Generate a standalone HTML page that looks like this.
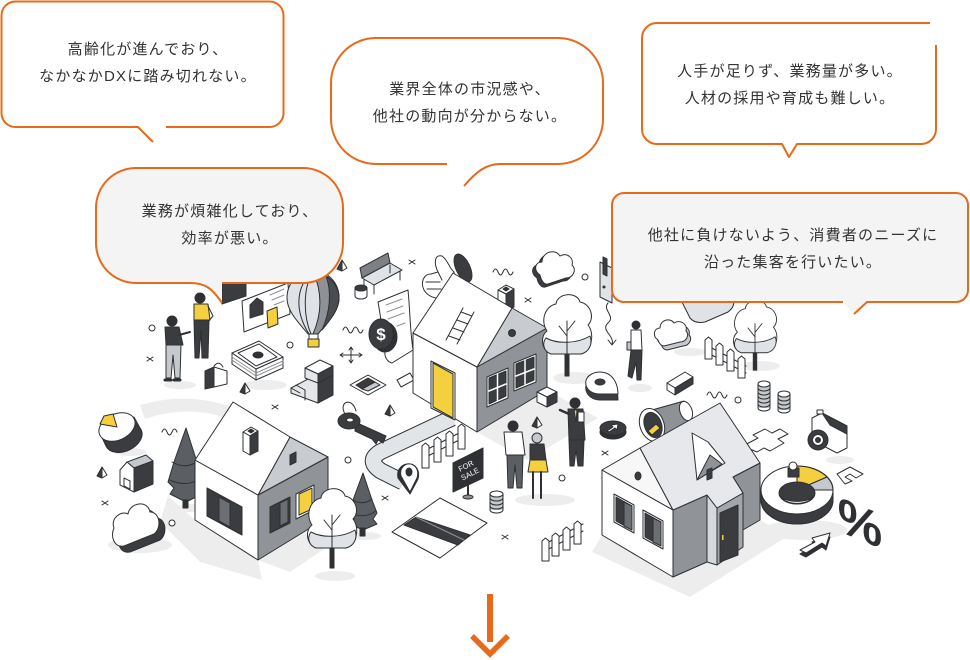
<!DOCTYPE html>
<html><head><meta charset="utf-8">
<style>
html,body{margin:0;padding:0;background:#fff;}
body{width:970px;height:660px;position:relative;overflow:hidden;font-family:"Liberation Sans","Noto Sans CJK JP",sans-serif;}
.t{position:absolute;width:400px;text-align:center;font-size:15px;letter-spacing:1.2px;line-height:27px;color:#333;white-space:nowrap;}
svg{position:absolute;left:0;top:0;}
</style></head><body>
<svg width="970" height="660" viewBox="0 0 970 660">
<!-- shadows -->
<g fill="#ededed" stroke="none">
<polygon points="168,496 195,520 258,560 262,580 200,562 160,522"/>
<polygon points="258,560 328,517 352,530 290,572"/>
<polygon points="477,432 547,390 598,418 527,460"/>
<polygon points="602,535 673,577 760,520 788,536 690,597 592,552"/>
<path d="M140,405 Q190,390 240,410 L235,421 Q190,403 145,419 Z"/>
<ellipse cx="140" cy="545" rx="32" ry="8"/>
<ellipse cx="805" cy="530" rx="42" ry="10"/>
<ellipse cx="575" cy="378" rx="22" ry="6"/>
<ellipse cx="335" cy="576" rx="20" ry="5"/>
<ellipse cx="760" cy="366" rx="20" ry="5"/>
<ellipse cx="365" cy="536" rx="16" ry="4"/>
<ellipse cx="190" cy="508" rx="14" ry="4"/>
<ellipse cx="180" cy="385" rx="16" ry="4"/>
<ellipse cx="265" cy="385" rx="22" ry="5"/>
<ellipse cx="545" cy="500" rx="30" ry="6"/>
<ellipse cx="640" cy="388" rx="12" ry="4"/>
<ellipse cx="690" cy="352" rx="16" ry="4"/>
<ellipse cx="840" cy="460" rx="14" ry="4"/>
<ellipse cx="130" cy="452" rx="16" ry="4"/>
</g>

<g stroke="#2e3033" stroke-width="1" stroke-linejoin="round" stroke-linecap="round">
<!-- decor x marks -->
<path d="M147,357 l6,4 m0,-4 l-6,4 M272,405 l6,4 m0,-4 l-6,4 M102,501 l6,4 m0,-4 l-6,4 M382,496 l6,4 m0,-4 l-6,4 M409,260 l6,4 m0,-4 l-6,4 M525,298 l6,4 m0,-4 l-6,4 M502,535 l6,4 m0,-4 l-6,4 M602,451 l6,4 m0,-4 l-6,4" fill="none"/>
<!-- small circles -->
<g fill="#fff"><circle cx="152" cy="328" r="3"/><circle cx="290" cy="345" r="3"/><circle cx="348" cy="460" r="3"/><circle cx="172" cy="523" r="3"/><circle cx="562" cy="478" r="3"/><circle cx="585" cy="277" r="3"/><circle cx="738" cy="400" r="3"/></g>
<!-- squiggles -->
<path d="M343,330 q2.5,-6 5,0 t5,0 t5,0 t5,0 M162,432 q2.5,-6 5,0 t5,0 t5,0 M493,272 q2.5,-6 5,0 t5,0 t5,0 t5,0 M707,395 q2.5,-6 5,0 t5,0 t5,0 t5,0" fill="none"/>
<!-- small pyramids -->
<g>
<polygon points="342,260 337,269 342,271" fill="#3a3c3f"/><polygon points="342,260 347,268 342,271" fill="#fff"/>
<polygon points="245,383 240,392 245,394" fill="#3a3c3f"/><polygon points="245,383 250,391 245,394" fill="#fff"/>
<polygon points="390,405 385,414 390,416" fill="#3a3c3f"/><polygon points="390,405 395,413 390,416" fill="#fff"/>
<polygon points="102,467 97,476 102,478" fill="#3a3c3f"/><polygon points="102,467 107,475 102,478" fill="#fff"/>
<polygon points="537,417 532,426 537,428" fill="#3a3c3f"/><polygon points="537,417 542,425 537,428" fill="#fff"/>
</g>

<!-- monitor / card -->
<polygon points="222,283 246,276 246,296 222,304" fill="#3a3c3f"/>
<polygon points="242,301 288,283 290,314 244,332" fill="#fff"/>
<polygon points="250,305 257,298 263,302 263,314 250,318" fill="#3a3c3f"/>
<polygon points="267,311 277,307 278,324 268,328" fill="#f4d03f"/>
<path d="M270,295 l14,-6 M272,300 l12,-5 M274,305 l10,-4" stroke="#8e9195" fill="none"/>

<!-- balloon -->
<path d="M313,271 C298,271 287,283 287,298 C287,312 300,324 308,334 L318,334 C326,324 339,312 339,298 C339,283 328,271 313,271 Z" fill="#dfe2e6"/>
<path d="M313,271 C328,271 339,283 339,298 C339,312 326,324 318,334 L313,334 C320,318 324,296 313,271 Z" fill="#8e9195"/>
<path d="M326,276 C335,282 339,290 339,298 C339,310 330,320 322,330 C330,312 332,292 326,276 Z" fill="#4a4c50"/>
<path d="M313,271 C302,290 304,318 311,334 M313,271 C296,286 294,310 309,334" fill="none"/>
<path d="M309,334 L309,339 M318,334 L318,339" fill="none"/>
<rect x="308" y="339" width="11" height="8" fill="#f4d03f"/>

<!-- people left -->
<circle cx="172" cy="321" r="5" fill="#2e3033"/>
<polygon points="165,327 179,327 183,345 166,345" fill="#3a3c3f"/>
<path d="M179,335 L190,332" stroke-width="2" fill="none"/>
<polygon points="166,345 181,345 180,378 175,378 173,355 171,378 166,378" fill="#c5c8cc"/>
<path d="M165,380 h6 M174,380 h6" stroke-width="3" fill="none"/>
<circle cx="200" cy="298" r="5" fill="#2e3033"/>
<polygon points="194,304 208,304 210,320 194,320" fill="#f4d03f"/>
<polygon points="194,320 209,320 208,358 202,358 201,330 199,358 195,358" fill="#3a3c3f"/>
<path d="M208,306 L213,316 L208,322" fill="none"/>

<!-- money stack -->
<polygon points="232,353 256,369 256,380 232,364" fill="#fff"/>
<polygon points="256,369 283,357 283,368 256,380" fill="#fff"/>
<path d="M232,357 l24,16 l27,-12 M232,360 l24,16 l27,-12" fill="none" stroke="#8e9195"/>
<polygon points="232,353 259,341 283,357 256,369" fill="#fff"/>
<ellipse cx="258" cy="355" rx="5" ry="3" fill="#2e3033"/>
<polygon points="238,353 259,344 277,357 256,366" fill="none"/>

<!-- briefcase -->
<polygon points="205,371 214,367 214,387 205,389" fill="#3a3c3f"/>
<polygon points="214,367 227,371 227,384 214,387" fill="#fff"/>
<path d="M214,366 q5,-6 9,1" fill="none"/>

<!-- stairs -->
<polygon points="291,388 310,378 318,383 318,403 291,393" fill="#e4e6e9"/>
<path d="M291,388 l9,5 M296,385 l9,5 v10" fill="none"/>
<polygon points="318,383 333,375 333,395 318,403" fill="#3a3c3f"/>
<polygon points="305,368 320,360 333,366 318,374" fill="#fff"/>
<polygon points="305,368 318,374 318,383 305,378" fill="#e4e6e9"/>
<polygon points="318,374 333,366 333,375 318,383" fill="#3a3c3f"/>

<!-- move arrows -->
<path d="M340,355 H362 M351,347 V363 M343,353 l-3,2 3,2 M359,353 l3,2 -3,2 M349,350 l2,-3 2,3 M349,360 l2,3 2,-3" fill="none"/>

<!-- hole -->
<polygon points="350,385 368,375 386,385 368,395" fill="#fff"/>
<polygon points="356,385 368,378 375,382 362,389" fill="#3a3c3f"/>
<polygon points="362,389 375,382 380,385 368,391" fill="#c5c8cc"/>

<!-- bench, cup -->
<polygon points="360,268 388,253 390,263 362,278" fill="#7d8084"/>
<polygon points="362,278 390,263 402,270 374,285" fill="#dfe2e6"/>
<path d="M364,280 v8 M374,285 v9 M400,271 v9 M390,265 v8" fill="none"/>
<rect x="355" y="288" width="12" height="8" fill="#fff" stroke="none"/>
<path d="M355,288 V296 M367,288 V296 M355,296 a6,3 0 0 0 12,0" fill="none"/>
<ellipse cx="361" cy="288" rx="6" ry="3" fill="#3a3c3f"/>

<!-- receipt and coin -->
<path d="M378,302 L408,290 C410,310 410,330 413,350 L392,363 C388,362 384,358 385,350 C383,335 381,318 378,302 Z" fill="#fff"/>
<path d="M386,305 l16,-6 M387,312 l16,-6 M388,319 l16,-6 M397,326 l8,-3" stroke="#8e9195" fill="none"/>
<ellipse cx="385" cy="337" rx="12" ry="15" fill="#2e3033"/>
<ellipse cx="381" cy="334" rx="12" ry="15" fill="#3a3c3f"/>
<text x="381" y="340" font-size="17" font-weight="bold" fill="#fff" text-anchor="middle" font-family="Liberation Sans, sans-serif" stroke="none">$</text>
<!-- pipe -->
<polygon points="397,380 410,373 414,380 401,387" fill="#fff"/>

<!-- thumbs up -->
<ellipse cx="463" cy="268" rx="7" ry="15" transform="rotate(-25 463 268)" fill="#3a3c3f"/>
<path d="M424,290 C420,282 424,274 431,274 L438,272 C434,264 434,254 442,256 C448,260 449,268 454,272 L457,293 C445,301 430,300 424,290 Z" fill="#fff"/>
<path d="M426,282 h14 M427,289 h14 M438,272 l4,8" fill="none"/>

<!-- cloud top -->
<path d="M537,278 C530,273 532,265 539,265 C539,255 552,251 557,259 C564,255 571,261 569,268 C574,273 570,281 563,281 L545,287 C541,288 538,283 537,278 Z" fill="#3a3c3f"/>
<path d="M540,275 C533,270 535,262 542,262 C542,252 555,248 560,256 C567,252 574,258 572,265 C577,270 573,278 566,278 L548,284 C544,285 541,280 540,275 Z" fill="#fff"/>

<!-- path -->
<path d="M452,418 L380,452 Q366,461 381,471 L403,482" fill="none" stroke="#2e3033" stroke-width="17" stroke-linecap="butt"/>
<path d="M452,418 L380,452 Q366,461 381,471 L403,482" fill="none" stroke="#e2e5e8" stroke-width="15" stroke-linecap="butt"/>
<!-- pin in path -->
<path d="M398,478 C396,469 403,463 410,464 C417,465 420,472 418,479 L410,494 Z" fill="#2e3033"/>
<path d="M401,476 C399,468 405,463 411,464 C417,466 419,472 417,478 L410,492 Z" fill="#fff"/>
<ellipse cx="409" cy="472" rx="3" ry="4" fill="#2e3033"/>

<!-- key -->
<path d="M345,414 C338,402 352,396 356,411" fill="none"/>
<polygon points="355,422 386,436 383,443 378,440 376,444 372,439 355,431" fill="#3a3c3f"/>
<ellipse cx="349" cy="421" rx="11" ry="8" fill="#3a3c3f"/>
<ellipse cx="350" cy="420" rx="3.5" ry="2" fill="#fff"/>

<!-- pine tree A -->
<polygon points="186,428 174,462 168,482 174,488 170,494 186,502 202,494 198,488 203,480 197,462" fill="#5b5e62"/>
<path d="M170,480 Q186,488 202,478 M172,462 Q186,470 198,461" fill="none"/>
<rect x="183" y="500" width="5" height="8" fill="#2e3033"/>

<!-- house A -->
<polygon points="195,460 258,495 258,560 195,520" fill="#fff"/>
<polygon points="258,495 328,457 328,517 258,560" fill="#909397"/>
<polygon points="258,495 290,437 328,457" fill="#c8cbcf"/>
<polygon points="195,460 233,402 290,437 258,495" fill="#fff"/>
<polygon points="243,432 251,427 258,431 250,436" fill="#fff"/>
<polygon points="243,432 250,436 250,455 243,451" fill="#fff"/>
<polygon points="250,436 258,431 258,451 250,455" fill="#3a3c3f"/>
<polygon points="248,431 251,429 254,431 251,433" fill="#2e3033"/>
<polygon points="207,488 242,507 242,535 207,516" fill="#3a3c3f"/>
<polygon points="219,497 230,503 230,527 219,521" fill="#6b6e72"/>
<polygon points="270,507 290,497 290,523 270,533" fill="#3a3c3f"/>
<polygon points="280,503 288,499 288,522 280,526" fill="#6b6e72"/>
<polygon points="296,494 314,485 314,510 296,519" fill="#fff"/>
<polygon points="299,494 312,488 312,509 299,515" fill="#f4d03f"/>
<polygon points="290,455 296,452 296,462 290,465" fill="#3a3c3f"/>

<!-- pine tree B -->
<polygon points="363,473 353,500 348,514 354,519 350,524 363,530 377,524 373,519 377,513 372,500" fill="#5b5e62"/>
<path d="M350,512 Q363,520 376,511 M353,500 Q363,506 372,499" fill="none"/>
<rect x="360" y="528" width="5" height="8" fill="#2e3033"/>

<!-- white tree A -->
<g transform="translate(332,520)">
<rect x="-2" y="26" width="4" height="22" fill="#2e3033"/>
<path d="M-16,28 C-26,24 -27,10 -20,5 C-27,-5 -22,-20 -11,-22 C-10,-33 10,-35 13,-24 C24,-22 28,-8 21,-1 C28,8 25,24 14,28 Z" fill="#fff"/>
<path d="M-16,28 C-24,25 -25,17 -21,12 C-10,18 10,18 23,10 C26,18 22,26 14,28 Z" fill="#dfe2e6"/>
<path d="M0,28 V-5 M0,10 L-8,0 M0,5 L8,-5" fill="none"/>
</g>

<!-- small house -->
<polygon points="127,462 146,455 153,461 134,468" fill="#c5c8cc"/>
<polygon points="134,468 153,461 153,484 134,492" fill="#3a3c3f"/>
<polygon points="120,470 127,462 134,468 134,492 120,485" fill="#fff"/>
<polygon points="124,478 130,481 130,489 124,486" fill="#fff"/>

<!-- pie chart -->
<path d="M99,431 L106,446 A19,13 -25 0 0 141,430 L134,417 Z" fill="#3a3c3f"/>
<ellipse cx="124" cy="438" rx="19" ry="13" transform="rotate(-25 124 438)" fill="#3a3c3f"/>
<ellipse cx="117" cy="427" rx="19" ry="13" transform="rotate(-25 117 427)" fill="#fff"/>
<polygon points="117,427 100,424 104,416 113,414" fill="#f4d03f"/>

<!-- cloud left -->
<path d="M120,534 C116,524 128,516 134,520 C136,508 154,506 156,518 C166,518 168,534 160,540 L130,552 C120,554 116,542 120,534 Z" fill="#3a3c3f"/>
<path d="M114,528 C110,518 122,510 128,514 C130,502 148,500 150,512 C160,512 162,528 154,534 L124,546 C114,548 110,536 114,528 Z" fill="#fff"/>

<!-- house B chimney -->
<polygon points="498,290 506,285 514,289 506,294" fill="#fff"/>
<polygon points="498,290 506,294 506,312 498,306" fill="#fff"/>
<polygon points="506,294 514,289 514,307 506,312" fill="#3a3c3f"/>
<polygon points="503,289 506,287 509,289 506,291" fill="#2e3033"/>

<!-- house B -->
<polygon points="413,333 477,367 477,432 413,393" fill="#fff"/>
<polygon points="477,367 547,328 547,390 477,432" fill="#909397"/>
<polygon points="477,367 512,308 547,328" fill="#c8cbcf"/>
<polygon points="413,333 453,273 512,308 477,367" fill="#fff"/>
<path d="M463,308 L446,340 M474,312 L457,344 M461,312 L472,316 M457,320 L468,324 M453,328 L464,332 M449,336 L460,340" fill="none"/>
<circle cx="512" cy="333" r="3.5" fill="#3a3c3f"/>
<polygon points="431,361 455,373 455,420 431,408" fill="#fff"/>
<polygon points="433,363 453,374 453,418 433,407" fill="#f4d03f"/>
<polygon points="487,377 508,368 508,398 487,407" fill="#fff"/>
<polygon points="489,378 506,371 506,396 489,404" fill="#3a3c3f"/>
<path d="M497.5,374 V401 M489,391 L506,384" stroke="#fff" stroke-width="1.5" fill="none"/>
<polygon points="514,363 536,354 536,382 514,391" fill="#fff"/>
<polygon points="516,364 534,357 534,380 516,388" fill="#3a3c3f"/>
<path d="M525,360 V384 M516,376 L534,369" stroke="#fff" stroke-width="1.5" fill="none"/>

<!-- white tree B -->
<g transform="translate(567,326)">
<rect x="-2" y="26" width="4" height="24" fill="#2e3033"/>
<path d="M-16,28 C-26,24 -27,10 -20,5 C-27,-5 -22,-20 -11,-22 C-10,-33 10,-35 13,-24 C24,-22 28,-8 21,-1 C28,8 25,24 14,28 Z" fill="#fff"/>
<path d="M-16,28 C-24,25 -25,17 -21,12 C-10,18 10,18 23,10 C26,18 22,26 14,28 Z" fill="#dfe2e6"/>
<path d="M0,28 V-5 M0,10 L-8,0 M0,5 L8,-5" fill="none"/>
</g>

<!-- cube -->
<polygon points="537,392 547,387 557,392 547,397" fill="#fff"/>
<polygon points="537,392 547,397 547,407 537,402" fill="#fff"/>
<polygon points="547,397 557,392 557,402 547,407" fill="#3a3c3f"/>

<!-- fence center -->
<path d="M424,458 L465,437 M424,451 L465,430" fill="none"/>
<g fill="#fff">
<polygon points="422,468 422,446 425.5,443 429,446 429,468"/>
<polygon points="434,462 434,440 437.5,437 441,440 441,462"/>
<polygon points="446,456 446,434 449.5,431 453,434 453,456"/>
<polygon points="458,449 458,427 461.5,424 465,427 465,449"/>
</g>

<!-- for sale sign -->
<path d="M468,485 V496" fill="none" stroke-width="2"/>
<ellipse cx="468" cy="497" rx="5" ry="2" fill="#8e9195"/>
<polygon points="453,463 483,448 483,478 453,492" fill="#2e3033"/>
<g transform="translate(468,470) rotate(-27)" fill="#fff" stroke="none" font-family="Liberation Sans, sans-serif" font-size="7.5" text-anchor="middle"><text x="0" y="-2">FOR</text><text x="0" y="7">SALE</text></g>

<!-- coin stack center -->
<rect x="490" y="494" width="13" height="16" fill="#c5c8cc" stroke="none"/>
<path d="M490,494 V510 M503,494 V510 M490,510 a6.5,3 0 0 0 13,0 M490,498 a6.5,3 0 0 0 13,0 M490,502 a6.5,3 0 0 0 13,0 M490,506 a6.5,3 0 0 0 13,0" fill="none"/>
<ellipse cx="496.5" cy="494" rx="6.5" ry="3" fill="#fff"/>

<!-- ramp -->
<polygon points="392,532 440,498 487,523 440,558" fill="#fff"/>
<polygon points="404,525 416,517 470,535 458,545" fill="#3a3c3f"/>
<path d="M416,517 L464,540" stroke="#8e9195" fill="none"/>

<!-- people center -->
<circle cx="513" cy="426" r="5" fill="#2e3033"/>
<polygon points="504,432 522,432 525,455 506,455" fill="#fff"/>
<polygon points="507,455 523,455 522,488 517,488 515,465 513,488 508,488" fill="#5b5e62"/>
<circle cx="537" cy="438" r="5" fill="#c5c8cc"/>
<polygon points="530,444 544,444 546,460 530,460" fill="#3a3c3f"/>
<polygon points="530,460 546,460 548,472 528,472" fill="#f4d03f"/>
<path d="M533,472 V498 M541,472 V498" stroke-width="2" fill="none"/>
<circle cx="575" cy="403" r="5" fill="#2e3033"/>
<polygon points="568,409 583,409 585,440 569,440" fill="#3a3c3f"/>
<polygon points="574,410 577,410 576,422" fill="#f4d03f"/>
<path d="M569,414 L560,410" stroke-width="2.5" fill="none"/>
<polygon points="569,440 584,440 583,466 578,466 576,450 574,466 570,466" fill="#3a3c3f"/>
<rect x="578" y="412" width="6" height="10" fill="#fff"/>

<!-- pin right -->
<path d="M586,390 C584,380 596,375 606,378 C614,381 618,390 618,400 L600,400 C592,400 587,395 586,390 Z" fill="#3a3c3f"/>
<path d="M586,385 C584,375 596,370 606,373 C614,376 618,385 618,394 L600,394 C592,394 587,390 586,385 Z" fill="#fff"/>
<ellipse cx="600" cy="382" rx="5" ry="3" fill="#3a3c3f"/>

<!-- arrow circle -->
<ellipse cx="613" cy="432" rx="13" ry="7" fill="#2e3033"/>
<ellipse cx="613" cy="428" rx="13" ry="7" fill="#3a3c3f"/>
<polygon points="607,431 613,427 611,425 618,424 617,430 615,428 609,432" fill="#fff"/>

<!-- door near bubble 5, gray shape -->
<polygon points="600,262 612,268 612,303 600,297" fill="#dfe2e6"/>
<polygon points="603,257 607,259 607,276 603,274" fill="#3a3c3f"/>
<circle cx="604" cy="287" r="1" fill="#2e3033"/>
<path d="M680,298 L690,318 Q695,324 705,322 L728,312 Q736,306 733,298 Z" fill="#dfe2e6"/>
<path d="M608,303 C602,310 616,316 608,323 C600,330 615,336 612,344 M608,340 L612,345 L616,340" fill="none"/>

<!-- woman walking -->
<circle cx="636" cy="325" r="4" fill="#2e3033"/>
<polygon points="631,330 641,330 642,350 631,350" fill="#fff"/>
<polygon points="631,350 642,350 641,380 637,380 636,362 632,378 628,376" fill="#3a3c3f"/>
<rect x="627" y="342" width="4" height="8" fill="#c5c8cc"/>

<!-- cloud right -->
<path d="M661,344 C655,340 657,332 663,332 C663,324 673,321 677,327 C683,323 691,328 689,335 C693,339 689,346 683,346 L667,350 C664,350 662,347 661,344 Z" fill="#c5c8cc"/>
<path d="M658,340 C652,336 654,328 660,328 C660,320 670,317 674,323 C680,319 688,324 686,331 C690,335 686,342 680,342 L664,346 C661,346 659,343 658,340 Z" fill="#fff"/>

<!-- fence right -->
<path d="M706,352 L746,373 M706,345 L746,366" fill="none"/>
<g fill="#fff">
<polygon points="705,359 705,340 708.5,337 712,340 712,359"/>
<polygon points="716,365 716,346 719.5,343 723,346 723,365"/>
<polygon points="727,371 727,352 730.5,349 734,352 734,371"/>
<polygon points="738,378 738,359 741.5,356 745,359 745,378"/>
</g>

<!-- white tree right -->
<g transform="translate(755,328) scale(0.88)">
<rect x="-2" y="26" width="4" height="22" fill="#2e3033"/>
<path d="M-16,28 C-26,24 -27,10 -20,5 C-27,-5 -22,-20 -11,-22 C-10,-33 10,-35 13,-24 C24,-22 28,-8 21,-1 C28,8 25,24 14,28 Z" fill="#fff"/>
<path d="M-16,28 C-24,25 -25,17 -21,12 C-10,18 10,18 23,10 C26,18 22,26 14,28 Z" fill="#dfe2e6"/>
<path d="M0,28 V-5 M0,10 L-8,0 M0,5 L8,-5" fill="none"/>
</g>

<!-- box -->
<polygon points="667,383 685,372 693,377 675,388" fill="#fff"/>
<polygon points="667,383 675,388 675,395 667,390" fill="#fff"/>
<polygon points="675,388 693,377 693,384 675,395" fill="#3a3c3f"/>

<!-- coins right -->
<rect x="758" y="384" width="12" height="24" fill="#c5c8cc" stroke="none"/>
<path d="M758,384 V408 M770,384 V408 M758,408 a6,3 0 0 0 12,0 M758,388 a6,3 0 0 0 12,0 M758,392 a6,3 0 0 0 12,0 M758,396 a6,3 0 0 0 12,0 M758,400 a6,3 0 0 0 12,0 M758,404 a6,3 0 0 0 12,0" fill="none"/>
<ellipse cx="764" cy="384" rx="6" ry="3" fill="#fff"/>
<rect x="778" y="394" width="12" height="16" fill="#c5c8cc" stroke="none"/>
<path d="M778,394 V410 M790,394 V410 M778,410 a6,3 0 0 0 12,0 M778,398 a6,3 0 0 0 12,0 M778,402 a6,3 0 0 0 12,0 M778,406 a6,3 0 0 0 12,0" fill="none"/>
<ellipse cx="784" cy="394" rx="6" ry="3" fill="#fff"/>

<!-- megaphone -->
<polygon points="652,410 684,401 690,421 660,441" fill="#8e9195"/>
<ellipse cx="686" cy="411" rx="6" ry="10" transform="rotate(-20 686 411)" fill="#fff"/>
<ellipse cx="652" cy="425" rx="12" ry="17" transform="rotate(-20 652 425)" fill="#fff"/>
<ellipse cx="653" cy="425" rx="8.5" ry="13" transform="rotate(-20 653 425)" fill="#3a3c3f"/>
<polygon points="648,431 656,424 660,428 652,435" fill="#f4d03f"/>

<!-- plus floor outline -->
<polygon points="743,446 758,438 753,435 765,429 772,433 780,429 788,434 778,439 784,443 770,451 764,448 757,452" fill="#fff"/>

<!-- camera -->
<polygon points="812,418 822,413 847,426 847,448 837,453 812,440" fill="#fff"/>
<polygon points="822,413 847,426 847,434 830,425" fill="#3a3c3f"/>
<rect x="817" y="410" width="6" height="4" fill="#fff"/>
<circle cx="818" cy="440" r="10" fill="#3a3c3f"/>
<circle cx="818" cy="440" r="5.5" fill="#fff"/>
<circle cx="818" cy="440" r="2.5" fill="#3a3c3f"/>

<!-- house C -->
<polygon points="602,470 673,510 673,577 602,535" fill="#fff"/>
<polygon points="673,510 707,495 707,562 673,577" fill="#909397"/>
<polygon points="707,495 717,508 717,565 707,562" fill="#d5d8dc"/>
<polygon points="717,508 743,493 743,547 717,565" fill="#a3a6aa"/>
<polygon points="743,493 733,477 760,463 760,520 743,530" fill="#909397"/>
<polygon points="602,470 640,448 673,510" fill="#f7f7f7"/>
<polygon points="640,448 720,403 760,463 733,477 743,493 717,508 707,495 673,510" fill="#e6e8eb"/>
<polygon points="720,513 738,505 738,555 720,562" fill="#3a3c3f"/>
<rect x="722" y="535" width="1.5" height="5" fill="#f4d03f" stroke="none"/>
<polygon points="692,433 708,442 725,463 697,480" fill="#fff"/>
<polygon points="697,480 710,455 722,464" fill="#909397"/>
<polygon points="707,470 712,468 712,478 707,480" fill="#3a3c3f"/>
<polygon points="614,494 634,505 634,533 614,522" fill="#fff"/>
<polygon points="616,497 632,506 632,530 616,521" fill="#3a3c3f"/>
<polygon points="624,502 632,506 632,530 624,526" fill="#6b6e72"/>
<polygon points="643,510 663,521 663,549 643,538" fill="#fff"/>
<polygon points="645,513 661,522 661,546 645,537" fill="#3a3c3f"/>
<polygon points="653,518 661,522 661,546 653,542" fill="#6b6e72"/>
<ellipse cx="638" cy="476" rx="3" ry="4" fill="#3a3c3f"/>

<!-- fence near house C -->
<path d="M543,552 L583,531 M543,545 L583,524" fill="none"/>
<g fill="#fff">
<polygon points="542,561 542,541 545.5,538 549,541 549,561"/>
<polygon points="552,556 552,536 555.5,533 559,536 559,556"/>
<polygon points="563,550 563,530 566.5,527 570,530 570,550"/>
<polygon points="574,544 574,524 577.5,521 581,524 581,544"/>
</g>

<!-- donut -->
<path d="M761,490 V500 A36,24 0 0 0 833,500 V490 Z" fill="#3a3c3f"/>
<ellipse cx="797" cy="500" rx="36" ry="24" fill="#3a3c3f"/>
<ellipse cx="797" cy="490" rx="36" ry="24" fill="#fff"/>
<path d="M797,490 L797,466 A36,24 0 0 1 827,477 Z" fill="#f4d03f"/>
<path d="M797,490 L827,477 A36,24 0 0 1 833,490 Z" fill="#c5c8cc"/>
<ellipse cx="797" cy="493" rx="18" ry="11" fill="#3a3c3f"/>
<path d="M780,496 A18,11 0 0 0 814,496 A18,8 0 0 1 780,496 Z" fill="#fff"/>
<rect x="788" y="468" width="11" height="9" fill="#3a3c3f"/>
<circle cx="793" cy="466" r="4" fill="#fff"/>

<!-- U shape -->
<polygon points="837,474 850,467 863,474 856,478 850,474 845,477 852,481 845,484" fill="#fff"/>

<!-- percent -->
<text transform="translate(860,540) skewY(22)" text-anchor="middle" font-size="50" font-weight="bold" fill="#2e3033" stroke="none" font-family="Liberation Sans, sans-serif">%</text>

<!-- arrow -->
<polygon points="800,554 815,546 812,542 830,537 826,550 822,547 806,557" fill="#2e3033"/>
<polygon points="800,550 815,542 812,538 830,533 826,546 822,543 806,553" fill="#fff"/>
</g>

<!-- bubbles -->
<g stroke="#e8691a" stroke-width="2" stroke-linejoin="round">
<rect x="1.5" y="1.5" width="282" height="125.5" rx="14" fill="#fff" stroke="none"/>
<path d="M166,127 H269.5 A14,14 0 0 0 283.5,113 V15.5 A14,14 0 0 0 269.5,1.5 H15.5 A14,14 0 0 0 1.5,15.5 V113 A14,14 0 0 0 15.5,127 H138 L153,142" fill="none"/>

<rect x="96" y="168" width="247" height="115" rx="40" fill="#f4f4f4" stroke="none"/>
<path d="M190,283 C205,283 212,288 222,303 L222,283 Z" fill="#f4f4f4" stroke="none"/>
<path d="M222,283 H303 A40,40 0 0 0 343,243 V208 A40,40 0 0 0 303,168 H136 A40,40 0 0 0 96,208 V243 A40,40 0 0 0 136,283 H190 C205,283 212,288 222,303" fill="none"/>

<rect x="331" y="38" width="272" height="126" rx="45" fill="#fff" stroke="none"/>
<path d="M447,164 H376 A45,45 0 0 1 331,119 V83 A45,45 0 0 1 376,38 H558 A45,45 0 0 1 603,83 V119 A45,45 0 0 1 558,164 H500 C486,164 476,172 464,186" fill="none"/>

<rect x="642" y="23" width="294" height="121" rx="15" fill="#fff" stroke="none"/>
<path d="M930,23 H657 A15,15 0 0 0 642,38 V129 A15,15 0 0 0 657,144 H782 L789,157 L797,144 H921 A15,15 0 0 0 936,129 V45" fill="none"/>

<rect x="612" y="193" width="356" height="109" rx="12" fill="#f4f4f4" stroke="none"/>
<polygon points="842,301 868,301 854,314" fill="#f4f4f4" stroke="none"/>
<path d="M843,302 H624 A12,12 0 0 1 612,290 V205 A12,12 0 0 1 624,193 H956 A12,12 0 0 1 968,205 V290 A12,12 0 0 1 956,302 H867 L854,314" fill="none"/>
</g>

<!-- down arrow -->
<path d="M490,594 V642" stroke="#e8691a" stroke-width="6" fill="none"/>
<polyline points="472,636 490,654 508,636" fill="none" stroke="#e8691a" stroke-width="5.5"/>
</svg>

<div class="t" style="left:-52px;top:36px">高齢化が進んでおり、<br>なかなかDXに踏み切れない。</div>
<div class="t" style="left:30px;top:198px">業務が煩雑化しており、<br>効率が悪い。</div>
<div class="t" style="left:270px;top:76px">業界全体の市況感や、<br>他社の動向が分からない。</div>
<div class="t" style="left:590px;top:58px">人手が足りず、業務量が多い。<br>人材の採用や育成も難しい。</div>
<div class="t" style="left:593px;top:222px">他社に負けないよう、消費者のニーズに<br>沿った集客を行いたい。</div>
</body></html>
